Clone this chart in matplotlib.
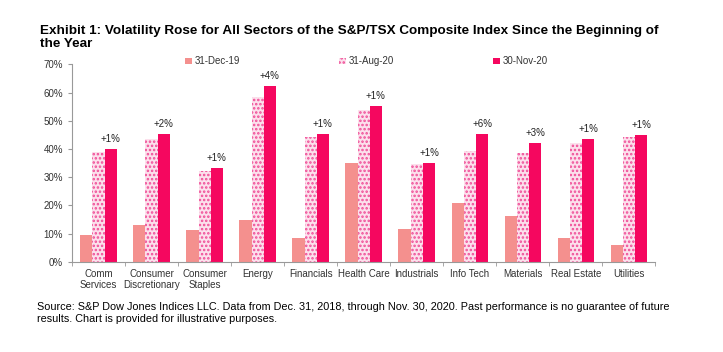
import numpy as np
import matplotlib.pyplot as plt
from matplotlib.ticker import PercentFormatter, FixedLocator

# sectores y volatilidades (en %)
sectores = ["Comm\nServices", "Consumer\nDiscretionary", "Consumer\nStaples", "Energy",
            "Financials", "Health Care", "Industrials", "Info Tech", "Materials",
            "Real Estate", "Utilities"]
dic_19 = [9.7, 13.2, 11.2, 14.8, 8.6, 35.2, 11.6, 20.7, 16.2, 8.5, 5.9]
ago_20 = [39.0, 43.4, 32.2, 58.5, 44.1, 53.8, 34.6, 39.3, 38.7, 42.0, 44.3]
nov_20 = [40.0, 45.3, 33.3, 62.3, 45.4, 55.1, 35.2, 45.3, 42.2, 43.5, 44.9]
etiquetas = ["+1%", "+2%", "+1%", "+4%", "+1%", "+1%", "+1%", "+6%", "+3%", "+1%", "+1%"]
series = ["31-Dec-19", "31-Aug-20", "30-Nov-20"]

plt.rcParams['font.family'] = ['Liberation Sans Narrow', 'Liberation Sans', 'DejaVu Sans']
plt.rcParams['hatch.linewidth'] = 1.2

fig = plt.figure(figsize=(7.23, 3.52), dpi=100)
ax = fig.add_axes([0.0996, 0.256, 0.807, 0.561])

x = np.arange(len(sectores))
w = 0.23
ax.bar(x - w, dic_19, w, color='#F4908E', label=series[0])
ax.bar(x, ago_20, w, facecolor='#FCE0EC', edgecolor='#F04C97', hatch='....',
       linewidth=0, label=series[1])
ax.bar(x + w, nov_20, w, color='#F5075F', label=series[2])

for xi, v, t in zip(x, nov_20, etiquetas):
    ax.text(xi + w, v + 1.8, t, ha='center', va='bottom', fontsize=7, color='#222222')

ax.set_ylim(0, 70)
ax.set_xlim(-0.5, len(sectores) - 0.5)
ax.set_yticks(range(0, 71, 10))
ax.yaxis.set_major_formatter(PercentFormatter(decimals=0))
ax.set_xticks(x)
ax.set_xticklabels(sectores, fontsize=7, color='#333333')
ax.xaxis.set_minor_locator(FixedLocator(np.arange(-0.5, len(sectores), 1)))
ax.tick_params(axis='x', which='major', length=0, pad=5)
ax.tick_params(axis='x', which='minor', length=3, color='#999999')
ax.tick_params(axis='y', labelsize=7, labelcolor='#333333', length=3, color='#999999')
for s in ['top', 'right']:
    ax.spines[s].set_visible(False)
for s in ['left', 'bottom']:
    ax.spines[s].set_color('#999999')
    ax.spines[s].set_linewidth(0.8)

ax.legend(loc='center', bbox_to_anchor=(0.505, 1.015), ncol=3, frameon=False,
          fontsize=7, handlelength=0.7, handleheight=0.7, handletextpad=0.3,
          columnspacing=10.2, labelcolor='#333333')

fig.text(0.055, 0.93, "Exhibit 1: Volatility Rose for All Sectors of the S&P/TSX Composite Index Since the Beginning of\nthe Year",
         fontsize=9.7, fontweight='bold', va='top', ha='left', linespacing=1.1)
fig.text(0.051, 0.141, "Source: S&P Dow Jones Indices LLC. Data from Dec. 31, 2018, through Nov. 30, 2020. Past performance is no guarantee of future\nresults. Chart is provided for illustrative purposes.",
         fontsize=7.8, va='top', ha='left', linespacing=1.15)

fig.savefig("out.png", dpi=100)
